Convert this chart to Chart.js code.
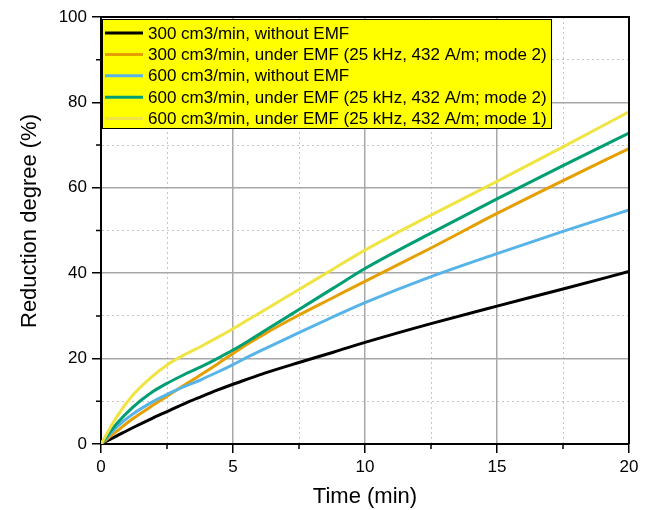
<!DOCTYPE html>
<html>
<head>
<meta charset="utf-8">
<script src="https://cdn.jsdelivr.net/npm/chart.js@4"></script>
<style>
  body { margin: 0; background: #fff; }
  #wrap { width: 650px; height: 510px; }
</style>
</head>
<body>
<div id="wrap"><canvas id="chart" width="650" height="510"></canvas></div>
<script>
// time points (min)
const times = [0, 0.6, 1.2, 1.9, 2.5, 3.1, 3.8, 4.4, 5, 5.6, 6.2, 7.5, 8.8, 10, 12.5, 15, 17.5, 20];

// reduction degree (%)
const s300noEmf = [0, 1.9, 3.8, 5.9, 7.6, 9.3, 11.1, 12.6, 14.0, 15.3, 16.6, 19.1, 21.5, 23.8, 28.2, 32.3, 36.3, 40.4];
const s300emf2  = [0, 3.0, 5.9, 8.8, 11.2, 13.6, 16.3, 18.7, 21.2, 23.6, 25.8, 30.2, 34.3, 38.1, 45.9, 54.0, 61.7, 69.2];
const s600noEmf = [0, 4.0, 7.0, 9.7, 11.6, 13.3, 15.1, 16.8, 18.6, 20.5, 22.3, 26.1, 29.8, 33.1, 39.2, 44.6, 49.8, 54.8];
const s600emf2  = [0, 4.8, 8.6, 12.0, 14.2, 16.1, 18.1, 20.0, 22.0, 24.2, 26.5, 31.5, 36.5, 41.1, 49.4, 57.4, 65.2, 72.8];
const s600emf1  = [0, 6.4, 11.4, 15.6, 18.5, 20.7, 22.9, 24.9, 27.0, 29.2, 31.4, 36.2, 41.0, 45.4, 53.6, 61.5, 69.6, 77.8];

const seriesLabels = [
  "300 cm3/min, without EMF",
  "300 cm3/min, under EMF (25 kHz, 432 A/m; mode 2)",
  "600 cm3/min, without EMF",
  "600 cm3/min, under EMF (25 kHz, 432 A/m; mode 2)",
  "600 cm3/min, under EMF (25 kHz, 432 A/m; mode 1)"
];
const seriesColors = ["#000000", "#E69F00", "#56B4E9", "#009E73", "#F0E442"];
const seriesData = [s300noEmf, s300emf2, s600noEmf, s600emf2, s600emf1];

// tick labels
const xMajor = [0, 5, 10, 15, 20];
const yMajor = [0, 20, 40, 60, 80, 100];

const FONT = "Arial, 'Liberation Sans', sans-serif";

const datasets = seriesData.map((vals, i) => ({
  label: seriesLabels[i],
  data: times.map((t, j) => ({ x: t, y: vals[j] })),
  borderColor: seriesColors[i],
  backgroundColor: seriesColors[i],
  borderWidth: 3,
  pointRadius: 0,
  cubicInterpolationMode: "monotone",
  order: 5 - i
}));

// frame, minor ticks, y title, legend box
const extras = {
  id: "extras",
  afterDraw(chart) {
    const c = chart.ctx;
    const a = chart.chartArea;
    const xs = chart.scales.x, ys = chart.scales.y;
    c.save();
    c.strokeStyle = "#000";
    c.lineWidth = 2;
    c.beginPath();
    c.moveTo(a.left, a.top); c.lineTo(a.right, a.top); c.lineTo(a.right, a.bottom);
    c.stroke();

    c.lineWidth = 1.5;
    c.beginPath();
    for (let v = 2.5; v < 20; v += 5) {
      const px = xs.getPixelForValue(v);
      c.moveTo(px, a.bottom); c.lineTo(px, a.bottom + 5);
    }
    for (let v = 10; v < 100; v += 20) {
      const py = ys.getPixelForValue(v);
      c.moveTo(a.left, py); c.lineTo(a.left - 5, py);
    }
    c.stroke();

    // y axis title
    c.save();
    c.translate(30, 221);
    c.rotate(-Math.PI / 2);
    c.font = "22px " + FONT;
    c.fillStyle = "#000";
    c.textAlign = "center";
    c.textBaseline = "middle";
    c.fillText("Reduction degree (%)", 0, 0);
    c.restore();

    // legend
    const bx = 102, by = 19, bw = 449, bh = 109;
    c.fillStyle = "#FFFF00";
    c.fillRect(bx, by, bw, bh);
    c.strokeStyle = "#000";
    c.lineWidth = 1;
    c.strokeRect(bx + 0.5, by + 0.5, bw, bh);
    c.font = "17px " + FONT;
    c.textBaseline = "middle";
    c.textAlign = "left";
    chart.data.datasets.forEach((ds, i) => {
      const yy = 33 + i * 21.4;
      c.strokeStyle = ds.borderColor;
      c.lineWidth = 3;
      c.beginPath();
      c.moveTo(105, yy); c.lineTo(143, yy);
      c.stroke();
      c.fillStyle = "#000";
      c.fillText(ds.label, 148, yy + 1);
    });
    c.restore();
  }
};

new Chart(document.getElementById("chart"), {
  type: "line",
  data: { datasets },
  plugins: [extras],
  options: {
    responsive: false,
    animation: false,
    layout: { padding: { top: 17, right: 21, left: 0, bottom: 0 } },
    plugins: { legend: { display: false }, tooltip: { enabled: false } },
    scales: {
      x: {
        type: "linear",
        min: 0, max: 20,
        afterFit: s => { s.height = 66; },
        ticks: {
          stepSize: 2.5,
          color: "#000",
          font: { family: FONT, size: 17 },
          padding: 4,
          maxRotation: 0,
          autoSkip: false,
          callback: v => xMajor.includes(v) ? String(v) : ""
        },
        grid: {
          color: ctx => ctx.tick && xMajor.includes(ctx.tick.value) ? "#a8a8a8" : "#c4c4c4",
          lineWidth: ctx => ctx.tick && xMajor.includes(ctx.tick.value) ? 1.5 : 1,
          tickColor: ctx => ctx.tick && xMajor.includes(ctx.tick.value) ? "#000" : "rgba(0,0,0,0)",
          tickLength: 9,
          tickWidth: 1.5
        },
        border: {
          color: "#000", width: 2,
          dash: ctx => ctx.tick && !xMajor.includes(ctx.tick.value) ? [2, 3] : []
        },
        title: {
          display: true, text: "Time (min)", color: "#000",
          font: { family: FONT, size: 22 },
          padding: { top: 0, bottom: 0 }
        }
      },
      y: {
        min: 0, max: 100,
        afterFit: s => { s.width = 101; },
        ticks: {
          stepSize: 10,
          color: "#000",
          font: { family: FONT, size: 17 },
          padding: 5,
          autoSkip: false,
          callback: v => yMajor.includes(v) ? String(v) : ""
        },
        grid: {
          color: ctx => ctx.tick && yMajor.includes(ctx.tick.value) ? "#a8a8a8" : "#c4c4c4",
          lineWidth: ctx => ctx.tick && yMajor.includes(ctx.tick.value) ? 1.5 : 1,
          tickColor: ctx => ctx.tick && yMajor.includes(ctx.tick.value) ? "#000" : "rgba(0,0,0,0)",
          tickLength: 9,
          tickWidth: 1.5
        },
        border: {
          color: "#000", width: 2,
          dash: ctx => ctx.tick && !yMajor.includes(ctx.tick.value) ? [2, 3] : []
        },
        title: { display: false }
      }
    }
  }
});
</script>
</body>
</html>
